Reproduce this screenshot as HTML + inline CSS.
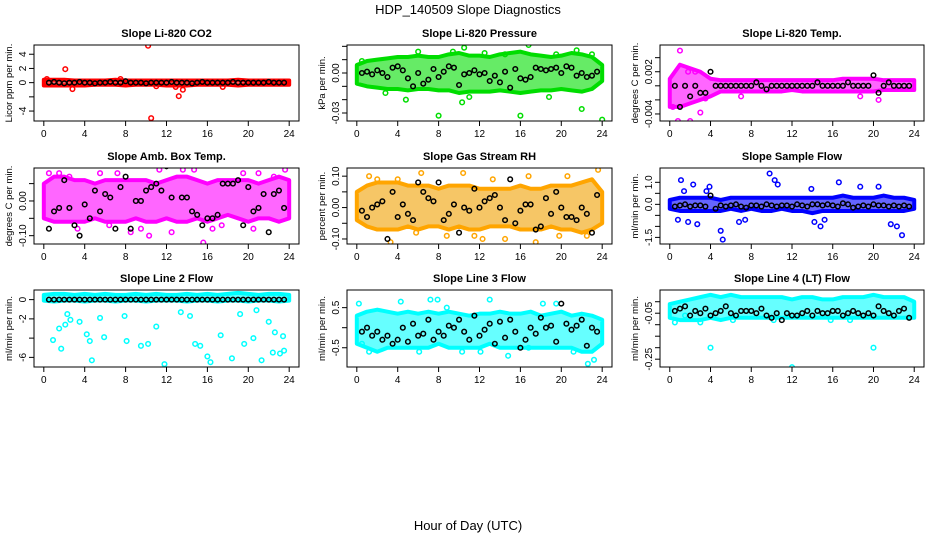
<!DOCTYPE html>
<html><head><meta charset="utf-8"><style>
body{margin:0;background:#fff}
svg{display:block;font-family:"Liberation Sans",sans-serif}
</style></head><body>
<svg id="c" width="936" height="540" viewBox="0 0 936 540">
<text x="468" y="14" text-anchor="middle" font-size="13">HDP_140509  Slope Diagnostics</text>
<text x="468" y="530" text-anchor="middle" font-size="13">Hour of Day (UTC)</text>
</svg>
<script>
// ---- data (hourly band envelopes 0..24, outliers, black half-hourly points 0.5..23.5) ----
const p1Lo=[-0.4,-0.4,-0.4,-0.4,-0.4,-0.3,-0.3,-0.3,-0.4,-0.3,-0.3,-0.3,-0.4,-0.4,-0.4,-0.3,-0.3,-0.3,-0.3,-0.4,-0.3,-0.3,-0.3,-0.3,-0.3];
const p1Hi=[0.4,0.4,0.4,0.3,0.3,0.3,0.3,0.4,0.3,0.3,0.3,0.3,0.3,0.3,0.3,0.3,0.3,0.3,0.3,0.4,0.3,0.3,0.3,0.3,0.3];
const p1OutX=[2.1,2.8,10.2,10.5,13.2,13.6,12.9,7.5,11.0,17.5,0.3];
const p1OutY=[1.9,-0.9,5.2,-5.0,-1.9,-1.0,-0.6,0.5,-0.5,-0.6,0.5];
const p1Black=[0,0.1,0,-0.1,0,0,0.1,0,0,-0.1,0,0,0.1,0,0,0.2,0,0,0,-0.1,0,0,0,0,0.1,0,0,0,-0.1,0,0.1,0,0,0,0,0,0.1,0,0,0,0,0,0,0.1,0,0,0];

const p2Lo=[-0.008,-0.010,-0.011,-0.012,-0.012,-0.013,-0.012,-0.012,-0.013,-0.013,-0.015,-0.014,-0.014,-0.014,-0.013,-0.014,-0.015,-0.014,-0.013,-0.013,-0.012,-0.013,-0.014,-0.012,-0.006];
const p2Hi=[0.006,0.009,0.010,0.011,0.012,0.012,0.013,0.012,0.012,0.014,0.015,0.013,0.013,0.012,0.014,0.015,0.016,0.014,0.013,0.012,0.013,0.015,0.014,0.012,0.006];
const p2OutX=[8,16,24,22,16.8,10.5,6,0.5,2.8,4.8,10.3,11,12.5,19.5,21.5,23,9.4,14.5,18.8];
const p2OutY=[-0.032,-0.032,-0.035,-0.027,0.021,0.019,0.016,0.009,-0.015,-0.020,-0.022,-0.018,0.015,0.014,0.017,0.014,0.016,0.014,-0.018];
const p2Black=[0,0.001,-0.001,0.002,0,-0.003,0.004,0.005,0.002,-0.004,-0.01,0,-0.008,-0.005,0.003,-0.003,0.001,0.005,0.004,-0.009,-0.001,0,0.002,-0.001,0,-0.006,-0.002,-0.007,0.001,-0.011,0.003,-0.004,-0.005,-0.003,0.004,0.003,0.002,0.003,0.004,0,0.005,0.004,-0.002,0,-0.003,-0.002,0.001];

const p3Lo=[-0.003,-0.003,-0.0025,-0.002,-0.0015,-0.0008,-0.0008,-0.0008,-0.0008,-0.0008,-0.0008,-0.0008,-0.0006,-0.0008,-0.0008,-0.0008,-0.0008,-0.0008,-0.0008,-0.0008,-0.0008,-0.0006,-0.0006,-0.0006,-0.0006];
const p3Hi=[0.001,0.003,0.0025,0.002,0.001,0.0008,0.0008,0.0008,0.0008,0.0008,0.0008,0.0008,0.0008,0.0008,0.0008,0.0008,0.0008,0.001,0.001,0.001,0.001,0.0008,0.0008,0.0008,0.0008];
const p3OutX=[1,0.3,0.8,2,3,20.5,3.5,1.8,2.5,7,18.7];
const p3OutY=[0.005,-0.003,-0.005,-0.005,-0.0038,-0.002,-0.0018,0.002,0.002,-0.0015,-0.0015];
const p3Black=[0,-0.003,0,-0.0015,0,-0.001,-0.001,0.002,0,0,0,0,0,0,0,0,0.0005,0,-0.0005,0,0,0,0,0,0,0,0,0,0.0005,0,0,0,0,0,0.0005,0,0,0,0,0.0015,-0.001,0,0.0005,0,0,0,0];

const p4Lo=[-0.05,-0.06,-0.06,-0.06,-0.06,-0.05,-0.06,-0.06,-0.06,-0.05,-0.06,-0.06,-0.05,-0.06,-0.06,-0.05,-0.06,-0.05,-0.04,-0.05,-0.06,-0.05,-0.05,-0.06,-0.05];
const p4Hi=[0.05,0.07,0.07,0.06,0.06,0.05,0.06,0.06,0.06,0.06,0.06,0.05,0.06,0.07,0.07,0.06,0.05,0.06,0.06,0.06,0.06,0.05,0.06,0.07,0.06];
const p4OutX=[0.5,1.5,2.5,5.5,7.2,8.5,9.5,10.3,12.5,13.6,14.7,15.6,16.5,19.5,21,22.5,3.3,6.4,11.3,17.4,20.5,23.6];
const p4OutY=[0.08,0.08,0.07,0.08,0.08,-0.09,-0.08,-0.10,-0.09,0.09,0.09,-0.12,-0.08,0.08,0.08,0.07,-0.08,-0.07,0.09,-0.07,-0.08,0.09];
const p4Black=[-0.08,-0.03,-0.02,0.06,-0.02,-0.07,-0.1,-0.01,-0.05,0.03,-0.03,0.02,0.01,-0.08,0.04,0.07,-0.08,0,0,0.03,0.04,0.05,0.03,0.1,0.01,0.11,0.01,0.01,-0.03,-0.04,-0.07,-0.05,-0.05,-0.04,0.05,0.05,0.05,0.06,-0.07,0.04,-0.03,-0.02,0.02,-0.09,0.02,0.03,-0.02];

const p5Lo=[-0.04,-0.06,-0.07,-0.07,-0.07,-0.06,-0.07,-0.06,-0.06,-0.07,-0.06,-0.07,-0.07,-0.06,-0.06,-0.06,-0.07,-0.07,-0.07,-0.06,-0.07,-0.07,-0.08,-0.07,-0.05];
const p5Hi=[0.05,0.07,0.08,0.08,0.08,0.07,0.07,0.07,0.06,0.07,0.07,0.07,0.06,0.06,0.06,0.06,0.07,0.06,0.06,0.07,0.07,0.07,0.08,0.09,0.05];
const p5OutX=[1.2,3.3,5.8,6.3,10.4,11.5,16.8,17.5,19.8,23.6,22.5,14.5,8.8,4.0,2.0,12.3,20.6,13.3];
const p5OutY=[0.10,-0.11,-0.08,0.11,0.11,-0.09,0.10,-0.11,-0.09,0.12,-0.09,-0.10,-0.09,0.09,0.09,-0.10,0.10,0.09];
const p5Black=[-0.01,-0.03,0,0.01,0.02,-0.1,0.05,-0.03,0.01,-0.02,-0.04,0.08,0.05,0.03,0.02,0.08,-0.04,-0.02,0.01,-0.08,0.0,-0.01,0.06,0.0,0.02,0.03,0.04,0.0,-0.04,0.09,-0.05,-0.01,0.01,0.01,-0.07,-0.06,0.03,-0.02,0.05,0,-0.03,-0.03,-0.04,0.0,-0.02,-0.08,0.04];

const p6Lo=[-0.2,-0.3,-0.3,-0.3,-0.3,-0.3,-0.2,-0.3,-0.2,-0.3,-0.3,-0.2,-0.3,-0.3,-0.4,-0.3,-0.3,-0.3,-0.3,-0.3,-0.3,-0.3,-0.3,-0.3,-0.2];
const p6Hi=[0.2,0.3,0.3,0.3,0.3,0.2,0.3,0.3,0.3,0.3,0.3,0.3,0.3,0.3,0.3,0.3,0.3,0.4,0.3,0.3,0.3,0.4,0.3,0.3,0.2];
const p6OutX=[1.1,1.4,2.3,3.6,3.9,0.8,1.8,2.7,5.2,5.0,9.8,10.3,10.6,14.2,14.8,16.6,22.8,21.7,22.3,20.5,6.8,7.4,13.9,15.2,18.7];
const p6OutY=[1.1,0.6,0.9,0.6,0.8,-0.7,-0.8,-0.9,-1.6,-1.2,1.4,1.1,0.9,-0.8,-1.0,1.0,-1.4,-0.9,-1.0,0.8,-0.8,-0.7,0.7,-0.7,0.8];
const p6Black=[-0.1,-0.05,0,-0.1,-0.05,-0.05,-0.1,0.4,-0.2,-0.05,-0.1,-0.05,0,-0.1,-0.15,-0.05,-0.05,-0.1,0,-0.05,-0.1,-0.05,-0.05,-0.1,0,-0.05,-0.1,0,0,-0.05,0,-0.05,-0.1,0.05,0,-0.15,-0.1,-0.05,-0.1,0,-0.05,-0.05,-0.1,-0.05,-0.1,-0.05,-0.1];

const p7Lo=[-0.1,-0.2,-0.1,-0.1,-0.2,-0.1,-0.1,-0.2,-0.1,-0.1,-0.2,-0.1,-0.1,-0.1,-0.2,-0.1,-0.1,-0.2,-0.1,-0.1,-0.2,-0.1,-0.1,-0.2,-0.1];
const p7Hi=[0.5,0.6,0.6,0.5,0.6,0.5,0.6,0.5,0.5,0.6,0.5,0.6,0.5,0.5,0.6,0.5,0.6,0.5,0.6,0.7,0.6,0.5,0.6,0.6,0.5];
const p7OutX=[0.9,1.7,1.5,2.1,2.3,2.6,3.5,4.2,4.5,4.7,5.5,5.9,7.9,8.1,9.5,10.2,11.0,11.8,13.4,14.3,14.8,15.3,16.0,16.3,17.3,18.4,19.2,19.6,20.8,20.5,21.3,22.0,22.4,22.6,23.1,23.5,23.4];
const p7OutY=[-4.2,-5.1,-3.0,-2.6,-1.5,-2.1,-2.3,-3.6,-4.3,-6.3,-1.9,-3.9,-1.7,-4.3,-4.8,-4.6,-2.8,-6.7,-1.3,-1.7,-4.6,-4.8,-5.9,-6.5,-3.7,-6.1,-1.5,-4.6,-1.1,-4.0,-6.3,-2.3,-5.5,-3.4,-5.6,-5.3,-3.8];
const p7Black=[0,0,0,0,0,0,0,0,0,0,0,0,0,0,0,0,0,0,0,0,0,0,0,0,0,0,0,0,0,0,0,0,0,0,0,0,0,0,0,0,0,0,0,0,0,0,0];

const p8Lo=[-0.4,-0.5,-0.6,-0.5,-0.5,-0.5,-0.5,-0.5,-0.4,-0.5,-0.5,-0.5,-0.5,-0.4,-0.5,-0.5,-0.5,-0.5,-0.5,-0.5,-0.5,-0.5,-0.6,-0.6,-0.4];
const p8Hi=[0.3,0.4,0.45,0.4,0.35,0.4,0.35,0.4,0.35,0.4,0.35,0.3,0.35,0.35,0.4,0.35,0.35,0.4,0.3,0.35,0.4,0.3,0.35,0.3,0.2];
const p8OutX=[0.2,0.5,1.2,4.3,6.1,7.2,7.9,10.3,13.0,14.8,16.8,18.2,19.5,21.2,22.6,23.2,8.8,12.1];
const p8OutY=[0.6,-0.4,-0.6,0.65,-0.6,0.7,0.7,-0.6,0.7,-0.7,-0.5,0.6,0.6,-0.6,-0.9,-0.8,0.5,-0.6];
const p8Black=[-0.1,0,-0.2,-0.1,-0.3,-0.2,-0.4,-0.3,0,-0.35,0.1,-0.2,-0.15,0.2,-0.3,-0.1,-0.2,0.05,0,0.2,-0.1,-0.3,0.3,-0.2,-0.05,0.1,-0.4,0.15,-0.25,0.2,-0.1,-0.5,-0.3,0,-0.15,0.25,0,0.05,-0.35,0.6,0.1,-0.05,0.05,0.2,-0.45,0,-0.1];

const p9Lo=[-0.07,-0.08,-0.08,-0.08,-0.07,-0.08,-0.07,-0.07,-0.07,-0.07,-0.07,-0.07,-0.07,-0.07,-0.07,-0.07,-0.07,-0.07,-0.07,-0.07,-0.07,-0.07,-0.07,-0.07,-0.07];
const p9Hi=[-0.01,0.0,0.01,0.02,0.03,0.02,0.03,0.02,0.02,0.02,0.02,0.02,0.01,0.02,0.02,0.01,0.01,0.02,0.02,0.02,0.03,0.02,0.02,0.02,0.0];
const p9OutX=[0.5,4,20,12,3.0,1.5,6.2,10.2,15.8,17.7];
const p9OutY=[-0.09,-0.2,-0.2,-0.285,-0.09,-0.06,-0.08,-0.08,-0.08,-0.08];
const p9Black=[-0.04,-0.03,-0.02,-0.06,-0.04,-0.05,-0.03,-0.06,-0.05,-0.04,-0.02,-0.05,-0.06,-0.04,-0.04,-0.04,-0.05,-0.03,-0.06,-0.07,-0.05,-0.08,-0.05,-0.06,-0.06,-0.05,-0.04,-0.06,-0.04,-0.05,-0.05,-0.04,-0.04,-0.06,-0.05,-0.04,-0.05,-0.06,-0.05,-0.06,-0.02,-0.04,-0.05,-0.06,-0.04,-0.03,-0.07];

const xTicks=[0,4,8,12,16,20,24];

// ---- panel layout ----
const NS='http://www.w3.org/2000/svg';
const svg=document.getElementById('c');
const cols=[[34,299],[347,612],[660,924]];
const rows=[[45,121],[168,244],[290,367]];
const panels=[
 {name:'co2',title:'Slope Li-820 CO2',ylab:'Licor ppm per min.',col:'#ff0000',fill:'#ff0000',lo:p1Lo,hi:p1Hi,ox:p1OutX,oy:p1OutY,bk:p1Black,ymin:-5.4,ymax:5.3,ticks:[-4,-2,0,2,4],labels:['-4','','0','2','4']},
 {name:'pressure',title:'Slope Li-820 Pressure',ylab:'kPa per min.',col:'#00dd00',fill:'#00dd00',lo:p2Lo,hi:p2Hi,ox:p2OutX,oy:p2OutY,bk:p2Black,ymin:-0.036,ymax:0.021,ticks:[-0.03,-0.02,-0.01,0,0.01,0.02],labels:['-0.03','','','0.00','','']},
 {name:'li820-temp',title:'Slope Li-820 Temp.',ylab:'degrees C per min.',col:'#ff00ff',fill:'#ff00ff',lo:p3Lo,hi:p3Hi,ox:p3OutX,oy:p3OutY,bk:p3Black,ymin:-0.005,ymax:0.0058,ticks:[-0.004,-0.002,0,0.002,0.004],labels:['-0.004','','','0.002','']},
 {name:'amb-box-temp',title:'Slope Amb. Box Temp.',ylab:'degrees C per min.',col:'#ff00ff',fill:'#ff00ff',lo:p4Lo,hi:p4Hi,ox:p4OutX,oy:p4OutY,bk:p4Black,ymin:-0.124,ymax:0.095,ticks:[-0.1,-0.05,0,0.05],labels:['-0.10','','0.00','']},
 {name:'gas-stream-rh',title:'Slope Gas Stream RH',ylab:'percent per min.',col:'#ffa500',fill:'#f0a000',lo:p5Lo,hi:p5Hi,ox:p5OutX,oy:p5OutY,bk:p5Black,ymin:-0.116,ymax:0.126,ticks:[-0.1,-0.05,0,0.05,0.1],labels:['-0.10','','0.00','','0.10']},
 {name:'sample-flow',title:'Slope Sample Flow',ylab:'ml/min per min.',col:'#0000ff',fill:'#0000ff',lo:p6Lo,hi:p6Hi,ox:p6OutX,oy:p6OutY,bk:p6Black,ymin:-1.8,ymax:1.65,ticks:[-1.5,-1,-0.5,0,0.5,1],labels:['-1.5','','','0.0','','1.0']},
 {name:'line2-flow',title:'Slope Line 2 Flow',ylab:'ml/min per min.',col:'#00ffff',fill:'#00ffff',lo:p7Lo,hi:p7Hi,ox:p7OutX,oy:p7OutY,bk:p7Black,ymin:-7.0,ymax:1.0,ticks:[-6,-4,-2,0],labels:['-6','','-2','0']},
 {name:'line3-flow',title:'Slope Line 3 Flow',ylab:'ml/min per min.',col:'#00ffff',fill:'#00ffff',lo:p8Lo,hi:p8Hi,ox:p8OutX,oy:p8OutY,bk:p8Black,ymin:-0.98,ymax:0.94,ticks:[-0.5,0,0.5],labels:['-0.5','','0.5']},
 {name:'line4-flow',title:'Slope Line 4 (LT) Flow',ylab:'ml/min per min.',col:'#00ffff',fill:'#00ffff',lo:p9Lo,hi:p9Hi,ox:p9OutX,oy:p9OutY,bk:p9Black,ymin:-0.284,ymax:0.051,ticks:[-0.25,-0.2,-0.15,-0.1,-0.05,0],labels:['-0.25','','','','-0.05','']}
];

function el(tag,attrs,parent){const e=document.createElementNS(NS,tag);for(const k in attrs)e.setAttribute(k,attrs[k]);(parent||svg).appendChild(e);return e;}

panels.forEach((p,i)=>{
  const [x0,x1]=cols[i%3],[y0,y1]=rows[Math.floor(i/3)];
  const g=el('g',{});
  
  
  const xr=25.92, xpad=0.96;
  const X=v=>x0+(v+xpad)/xr*(x1-x0);
  const Y=v=>y1-(v-p.ymin)/(p.ymax-p.ymin)*(y1-y0);
  const cp='clip'+i;
  const cl=el('clipPath',{id:cp},g);el('rect',{x:x0,y:y0,width:x1-x0,height:y1-y0},cl);
  const plot=el('g',{'clip-path':'url(#'+cp+')'},g);
  let pts=[];
  p.hi.forEach((v,h)=>pts.push(X(h)+','+Y(v)));
  for(let h=p.lo.length-1;h>=0;h--)pts.push(X(h)+','+Y(p.lo[h]));
  const band=el('polygon',{points:pts.join(' '),fill:p.fill,'fill-opacity':0.6,stroke:p.col,'stroke-width':4,'stroke-linejoin':'round'},plot);
  
  
  p.ox.forEach((xv,k)=>{
    const c=el('circle',{cx:X(xv),cy:Y(p.oy[k]),r:2.3,fill:'none',stroke:p.col,'stroke-width':1.5},plot);
    
    
  });
  p.bk.forEach((v,k)=>{
    const c=el('circle',{cx:X(0.5+k*0.5),cy:Y(v),r:2.3,fill:'none',stroke:'#000','stroke-width':1.5},plot);
    
    
  });
  el('rect',{x:x0,y:y0,width:x1-x0,height:y1-y0,fill:'none',stroke:'#000','stroke-width':1},g);
  xTicks.forEach(t=>{
    el('line',{x1:X(t),x2:X(t),y1:y1,y2:y1+5,stroke:'#000'},g);
    const tx=el('text',{x:X(t),y:y1+16,'text-anchor':'middle','font-size':10},g);tx.textContent=t;
    
    
  });
  el('line',{x1:X(0),x2:X(24),y1:y1,y2:y1,stroke:'#000'},g);
  p.ticks.forEach((t,k)=>{
    el('line',{x1:x0-5,x2:x0,y1:Y(t),y2:Y(t),stroke:'#000'},g);
    if(p.labels[k]){const ty=el('text',{x:x0-8,y:Y(t),'text-anchor':'middle','font-size':10,transform:'rotate(-90 '+(x0-8)+' '+Y(t)+')'},g);ty.textContent=p.labels[k];
      
      }
  });
  const yl=el('text',{x:x0-22,y:(y0+y1)/2,'text-anchor':'middle','font-size':9.5,transform:'rotate(-90 '+(x0-22)+' '+((y0+y1)/2)+')'},g);yl.textContent=p.ylab;
  
  
  const tt=el('text',{x:(x0+x1)/2,y:y0-8,'text-anchor':'middle','font-size':11,'font-weight':'bold'},g);tt.textContent=p.title;
  
  
});
</script>
</body></html>
